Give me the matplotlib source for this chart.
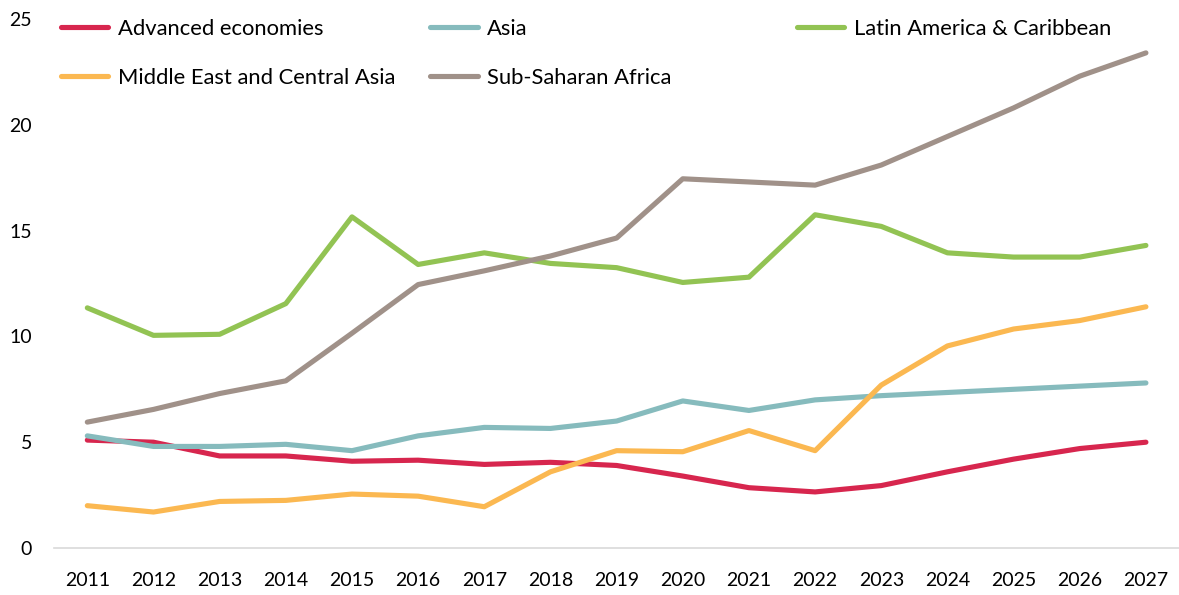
import matplotlib
matplotlib.use("Agg")
import matplotlib.pyplot as plt

years = list(range(2011, 2028))

advanced = [5.1, 5.0, 4.35, 4.35, 4.1, 4.15, 3.95, 4.05, 3.9, 3.4, 2.85, 2.65, 2.95, 3.6, 4.2, 4.7, 5.0]
asia = [5.3, 4.8, 4.8, 4.9, 4.6, 5.3, 5.7, 5.65, 6.0, 6.95, 6.5, 7.0, 7.2, 7.35, 7.5, 7.65, 7.8]
latam = [11.35, 10.05, 10.1, 11.55, 15.65, 13.4, 13.95, 13.45, 13.25, 12.55, 12.8, 15.75, 15.2, 13.95, 13.75, 13.75, 14.3]
mideast = [2.0, 1.7, 2.2, 2.25, 2.55, 2.45, 1.95, 3.6, 4.6, 4.55, 5.55, 4.6, 7.7, 9.55, 10.35, 10.75, 11.4]
ssa = [5.95, 6.55, 7.3, 7.9, 10.15, 12.45, 13.1, 13.8, 14.65, 17.45, 17.3, 17.15, 18.1, 19.45, 20.8, 22.3, 23.4]

plt.rcParams["font.family"] = ["Lato", "DejaVu Sans"]

fig = plt.figure(figsize=(11.79, 5.95), dpi=100)
ax = fig.add_axes([0.046, 0.079, 0.954, 0.889])

x = list(range(len(years)))
lw = 3.7
series = [
    ("Advanced economies", advanced, "#D7264E"),
    ("Asia", asia, "#86BBBD"),
    ("Latin America & Caribbean", latam, "#92C353"),
    ("Middle East and Central Asia", mideast, "#FBB851"),
    ("Sub-Saharan Africa", ssa, "#A09189"),
]
lines = {}
for name, vals, col in series:
    (ln,) = ax.plot(x, vals, color=col, lw=lw, solid_capstyle="round",
                    solid_joinstyle="round", label=name)
    lines[name] = ln

ax.set_xlim(-0.5, len(years) - 0.5)
ax.set_ylim(0, 25)
ax.set_yticks([0, 5, 10, 15, 20, 25])
ax.set_xticks(x)
ax.set_xticklabels([str(y) for y in years])
ax.tick_params(length=0, labelsize=14, colors="black")
ax.tick_params(axis="x", pad=17)
ax.tick_params(axis="y", pad=16)
for s in ("top", "right", "left"):
    ax.spines[s].set_visible(False)
ax.spines["bottom"].set_color("#D9D9D9")
ax.spines["bottom"].set_linewidth(1.2)

leg_kw = dict(frameon=False, fontsize=15.8, handlelength=2.15, handletextpad=0.45,
              labelspacing=1.3, borderpad=0, borderaxespad=0,
              loc="upper left")
groups = [
    (["Advanced economies", "Middle East and Central Asia"], 0.052),
    (["Asia", "Sub-Saharan Africa"], 0.365),
    (["Latin America & Caribbean"], 0.676),
]
for names, xpos in groups:
    fig.legend([lines[n] for n in names], names,
               bbox_to_anchor=(xpos, 0.968), **leg_kw)

fig.savefig("out.png", dpi=100)
